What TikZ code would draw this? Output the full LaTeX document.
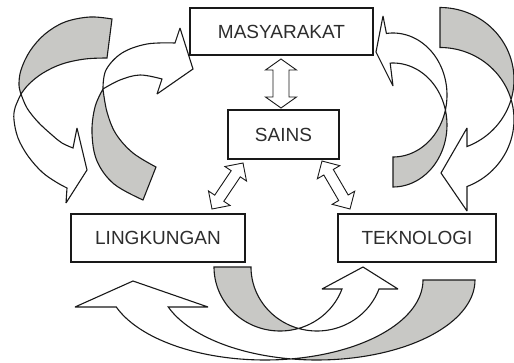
\documentclass[tikz,border=0pt]{standalone}
\usepackage{fontspec}
\setmainfont{Liberation Sans}
\usetikzlibrary{calc}
\definecolor{shade}{RGB}{200,200,197}
\definecolor{ink}{RGB}{25,25,25}
\definecolor{txt}{RGB}{45,45,45}
\tikzset{
  box/.style n args={2}{draw=ink, line width=1.1pt, fill=white, inner sep=0pt,
     minimum width=#1, minimum height=#2, text=txt,
     font=\fontsize{19}{22}\selectfont},
  band/.style={draw=ink, line width=1.1pt, line join=miter, miter limit=3},
  back/.style={band, fill=shade},
  front/.style={band, fill=white},
  fatarrow/.style n args={3}{draw=ink, fill=white, line width=0.9pt, line join=miter,
    to path={let \p1=(\tikztostart), \p2=(\tikztotarget),
      \n1={atan2(\y2-\y1,\x2-\x1)}, \n2={veclen(\x2-\x1,\y2-\y1)} in
      (\p1) -- ($(\p1)+({\n1}:#2)+({\n1+90}:#1/2)$)
      -- ($(\p1)+({\n1}:#2)+({\n1+90}:#3/2)$)
      -- ($(\p1)+({\n1}:{\n2-#2})+({\n1+90}:#3/2)$)
      -- ($(\p1)+({\n1}:{\n2-#2})+({\n1+90}:#1/2)$)
      -- (\p2)
      -- ($(\p1)+({\n1}:{\n2-#2})+({\n1-90}:#1/2)$)
      -- ($(\p1)+({\n1}:{\n2-#2})+({\n1-90}:#3/2)$)
      -- ($(\p1)+({\n1}:#2)+({\n1-90}:#3/2)$)
      -- ($(\p1)+({\n1}:#2)+({\n1-90}:#1/2)$)
      -- cycle}}
}
\begin{document}
\begin{tikzpicture}[x=1pt, y=-1pt]
\useasboundingbox (0,0) rectangle (514,362);
\fill[white] (0,0) rectangle (514,362);

% ---- Arrow A (top-left outer, to LINGKUNGAN)
\draw[back] plot[smooth, tension=0.6] coordinates {(112,19) (90,17) (65,22) (45,34) (30,51) (21,70) (19,85) (21,94)}
  -- plot[smooth, tension=0.6] coordinates {(21,94) (29,84) (43,73) (62,64) (85,59) (107,58)} -- cycle;
\draw[front] plot[smooth, tension=0.6] coordinates {(21,94) (27,108) (38,122) (52,135) (62,143) (73,148)}
  -- (77,128) -- (87,170) -- (66,203) -- (67,188)
  -- plot[smooth, tension=0.6] coordinates {(67,188) (56,182) (42,172) (28,156) (18,138) (14,120) (15,108) (21,94)} -- cycle;

% ---- Arrow B (top-left inner, to MASYARAKAT)
\draw[back] plot[smooth, tension=0.6] coordinates {(156,167) (133,153) (116,134) (107,112) (103,89)}
  -- plot[smooth, tension=0.6] coordinates {(103,89) (95,107) (92,133) (97,161) (114,184) (143,200)} -- cycle;
\draw[front] plot[smooth, tension=0.6] coordinates {(103,89) (106,70) (122,53) (147,44) (175,43)}
  -- (180,28) -- (193,69) -- (157,94) -- (162,79)
  -- plot[smooth, tension=0.6] coordinates {(162,79) (140,75) (120,80) (103,89)} -- cycle;

% ---- Arrow C (top-right inner, to MASYARAKAT)
\draw[back] plot[domain=14:90, samples=30, variable=\t] ({393+54*cos(\t)}, {95+62*sin(\t)})
  -- plot[domain=90:-14, samples=30, variable=\t] ({393+54*cos(\t)}, {125+62*sin(\t)}) -- cycle;
\draw[front] plot[domain=-97:14, samples=40, variable=\t] ({393+54*cos(\t)}, {95+62*sin(\t)})
  -- plot[domain=-14:-93, samples=30, variable=\t] ({393+54*cos(\t)}, {125+62*sin(\t)})
  -- (393,86) -- (376,52) -- (383,16) -- cycle;

% ---- Arrow D (top-right outer, to TEKNOLOGI)
\draw[back] plot[domain=-90:16.1, samples=40, variable=\t] ({440+74*cos(\t)}, {79.5+72*sin(\t)})
  -- plot[domain=-16.1:-90, samples=40, variable=\t] ({440+74*cos(\t)}, {119.5+72*sin(\t)}) -- cycle;
\draw[front] plot[domain=16.1:68.6, samples=30, variable=\t] ({440+74*cos(\t)}, {79.5+72*sin(\t)})
  -- (467,128) -- (441,173) -- (467,211)
  -- plot[domain=68.6:-16.1, samples=30, variable=\t] ({440+74*cos(\t)}, {119.5+72*sin(\t)}) -- cycle;

% ---- Arrow E (bottom small, LINGKUNGAN -> TEKNOLOGI)
\draw[back] plot[domain=180:73.7, samples=40, variable=\t] ({280+66*cos(\t)}, {267+64*sin(\t)})
  -- plot[domain=106.3:180, samples=40, variable=\t] ({317+66*cos(\t)}, {267+64*sin(\t)}) -- cycle;
\draw[front] plot[domain=73.7:20.1, samples=30, variable=\t] ({280+66*cos(\t)}, {267+64*sin(\t)})
  -- (322,289) -- (363,267) -- (398,289)
  -- plot[domain=20.1:106.3, samples=30, variable=\t] ({317+66*cos(\t)}, {267+64*sin(\t)}) -- cycle;

% ---- Arrow F (bottom big, TEKNOLOGI -> LINGKUNGAN)
\draw[back] plot[domain=0:80.53, samples=40, variable=\t] ({265+158*cos(\t)}, {280+80*sin(\t)})
  -- plot[domain=99.47:0, samples=40, variable=\t] ({317+158*cos(\t)}, {280+80*sin(\t)}) -- cycle;
\draw[front] plot[domain=80.53:160.28, samples=40, variable=\t] ({265+158*cos(\t)}, {280+80*sin(\t)})
  -- (75,307) -- (133,281) -- (208,307)
  -- plot[domain=160.28:99.47, samples=40, variable=\t] ({317+158*cos(\t)}, {280+80*sin(\t)}) -- cycle;

% ---- boxes
\node[box={183pt}{47pt}] (masy) at (281.5,31.5) {MASYARAKAT};
\node[box={111pt}{49pt}] (sains) at (283.5,134.5) {SAINS};
\node[box={174pt}{48pt}] (lingk) at (158,238) {LINGKUNGAN};
\node[box={158pt}{48pt}] (tekno) at (417,238) {TEKNOLOGI};

% ---- double arrows
\coordinate (ms1) at (281,59);
\coordinate (ms2) at (281,108);
\coordinate (sl1) at (243,163);
\coordinate (sl2) at (212,209);
\coordinate (st1) at (322,161);
\coordinate (st2) at (350,209);
\draw[fatarrow={31pt}{11pt}{16pt}] (ms1) to (ms2);
\draw[fatarrow={26pt}{13pt}{11pt}] (sl1) to (sl2);
\draw[fatarrow={26pt}{13pt}{11pt}] (st1) to (st2);
\end{tikzpicture}
\end{document}
